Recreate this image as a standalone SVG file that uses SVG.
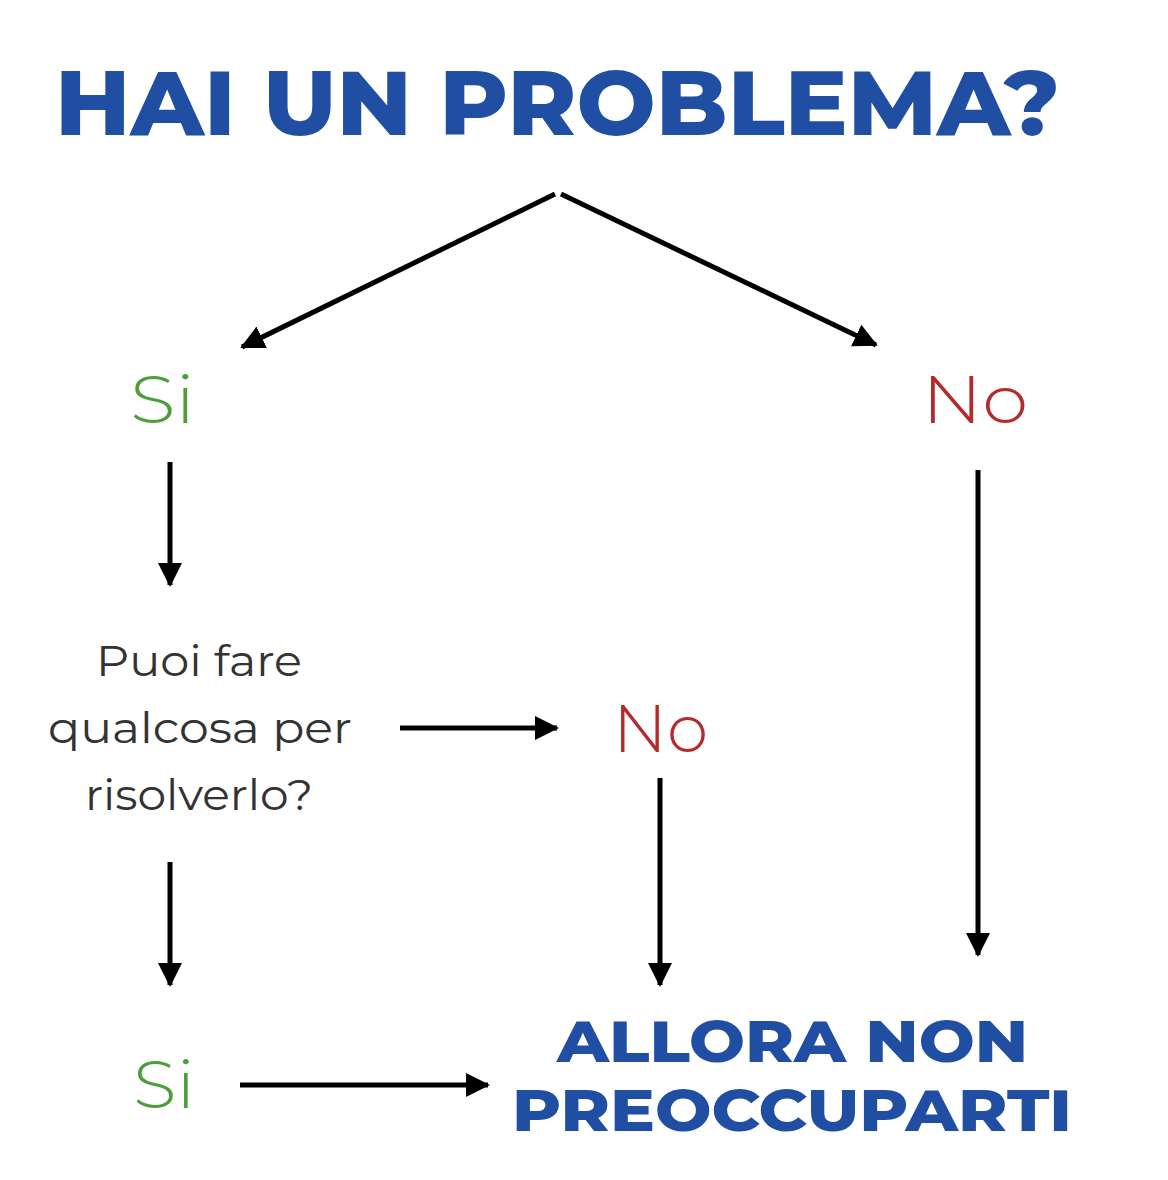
<svg xmlns="http://www.w3.org/2000/svg" width="1168" height="1180" viewBox="0 0 1168 1180">
<defs>
<marker id="ah" markerUnits="userSpaceOnUse" markerWidth="26" markerHeight="26" viewBox="0 0 26 26" refX="22" refY="13" orient="auto">
<path d="M0,1 L24,13 L0,25 Z" fill="#000"/>
</marker>
</defs>
<style>
.title{font-family:"Montserrat","Lato","Liberation Sans",sans-serif;font-weight:800;fill:#1f4ea3}
.yes{font-family:"Montserrat","Lato","Liberation Sans",sans-serif;font-weight:300;fill:#4c9e3b;font-size:66px}
.no{font-family:"Montserrat","Lato","Liberation Sans",sans-serif;font-weight:300;fill:#b52a2a;font-size:66px}
.q{font-family:"Montserrat","Lato","Liberation Sans",sans-serif;font-weight:400;fill:#333;font-size:44px}
.c{stroke:#000;stroke-width:5;fill:none;marker-end:url(#ah)}
</style>
<rect width="1168" height="1180" fill="#fff"/>
<g id="title"><text class="title" x="55" y="135" font-size="90" textLength="1005" lengthAdjust="spacingAndGlyphs">HAI UN PROBLEMA?</text></g>
<g id="si1"><text class="yes" x="130" y="423" textLength="65" lengthAdjust="spacingAndGlyphs">Si</text></g>
<g id="no1"><text class="no" x="922" y="423" textLength="106" lengthAdjust="spacingAndGlyphs">No</text></g>
<g id="question"><text class="q" x="96" y="676" textLength="206" lengthAdjust="spacingAndGlyphs">Puoi fare</text><text class="q" x="48" y="743" textLength="304" lengthAdjust="spacingAndGlyphs">qualcosa per</text><text class="q" x="85" y="810" textLength="228" lengthAdjust="spacingAndGlyphs">risolverlo?</text></g>
<g id="no2"><text class="no" x="613" y="752" textLength="95" lengthAdjust="spacingAndGlyphs">No</text></g>
<g id="si2"><text class="yes" x="133" y="1108" textLength="62" lengthAdjust="spacingAndGlyphs">Si</text></g>
<g id="result"><text class="title" x="557" y="1062" font-size="58" textLength="471" lengthAdjust="spacingAndGlyphs">ALLORA NON</text><text class="title" x="512" y="1131" font-size="58" textLength="560" lengthAdjust="spacingAndGlyphs">PREOCCUPARTI</text></g>
<g id="connectors">
<path class="c" d="M555,194 L242,347"/>
<path class="c" d="M561,194 L876,345"/>
<path class="c" d="M170,462 L170,585"/>
<path class="c" d="M978,470 L978,955"/>
<path class="c" d="M400,728 L557,728"/>
<path class="c" d="M660,778 L660,985"/>
<path class="c" d="M170,862 L170,985"/>
<path class="c" d="M240,1085 L488,1085"/>
</g>
</svg>
